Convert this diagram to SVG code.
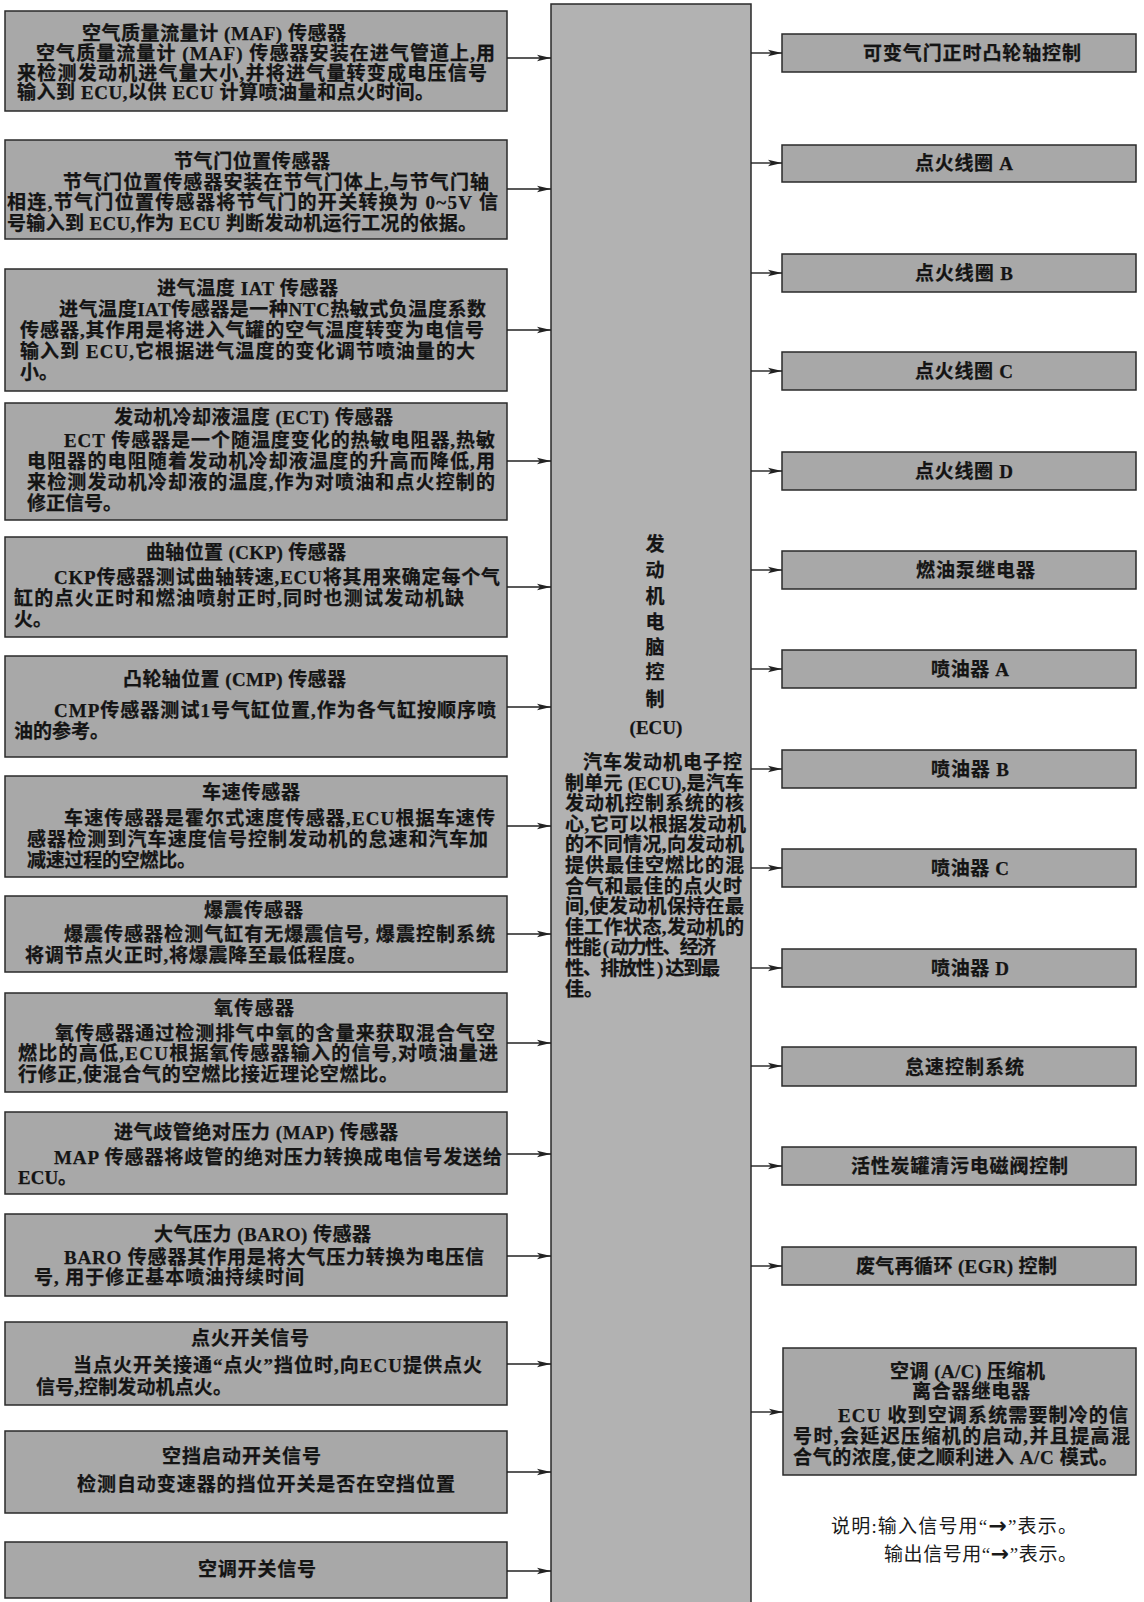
<svg xmlns="http://www.w3.org/2000/svg" width="1144" height="1602" viewBox="0 0 1144 1602">
<defs>
<style>
.box{fill:#a8a8a8;stroke:#2a2a2a;stroke-width:1.5}
.ecu{fill:#b2b2b2;stroke:#2a2a2a;stroke-width:1.5}
.t{font-family:"Liberation Serif","Noto Sans CJK SC",serif;font-size:19px;font-weight:bold;fill:#141414;stroke:#141414;stroke-width:0.25}
.lg{font-family:"Liberation Serif","Noto Sans CJK SC",serif;font-size:19px;font-weight:normal;fill:#1a1a1a}
.ar{font-family:"DejaVu Sans",sans-serif;font-size:22px;font-weight:bold}
.c{stroke:#222;stroke-width:1.4;fill:none;marker-end:url(#ah)}
</style>
<marker id="ah" markerUnits="userSpaceOnUse" markerWidth="15" markerHeight="8" refX="14" refY="4" orient="auto">
<path d="M0,0.8 L14,4 L0,7.2 L3,4 z" fill="#222"/>
</marker>
</defs>
<rect width="1144" height="1602" fill="#ffffff"/>

<g id="ecu">
<rect class="ecu" x="551" y="4" width="200" height="1610"/>
<g class="t" text-anchor="middle">
<text x="655" y="551">发</text>
<text x="655" y="577">动</text>
<text x="655" y="603">机</text>
<text x="655" y="629">电</text>
<text x="655" y="654">脑</text>
<text x="655" y="679">控</text>
<text x="655" y="706">制</text>
<text x="656" y="734">(ECU)</text>
</g>
<g class="t">
<text x="583" y="769" textLength="159">汽车发动机电子控</text>
<text x="565" y="790" textLength="179">制单元 (ECU),是汽车</text>
<text x="565" y="810" textLength="179">发动机控制系统的核</text>
<text x="565" y="831" textLength="181">心,它可以根据发动机</text>
<text x="565" y="851" textLength="179">的不同情况,向发动机</text>
<text x="565" y="872" textLength="179">提供最佳空燃比的混</text>
<text x="565" y="893" textLength="177">合气和最佳的点火时</text>
<text x="565" y="913" textLength="179">间,使发动机保持在最</text>
<text x="565" y="934" textLength="179">佳工作状态,发动机的</text>
<text x="565" y="954" textLength="151">性能 ( 动力性、经济</text>
<text x="565" y="975" textLength="155">性、排放性 ) 达到最</text>
<text x="565" y="996">佳。</text>
</g>
</g>

<g id="in-maf">
<rect class="box" x="5" y="11" width="502" height="100"/>
<text class="t" x="82" y="40" textLength="264">空气质量流量计 (MAF) 传感器</text>
<text class="t" x="36" y="60" textLength="459">空气质量流量计 (MAF) 传感器安装在进气管道上,用</text>
<text class="t" x="17" y="80" textLength="470">来检测发动机进气量大小,并将进气量转变成电压信号</text>
<text class="t" x="17" y="99" textLength="417">输入到 ECU,以供 ECU 计算喷油量和点火时间。</text>
</g>

<g id="in-tps">
<rect class="box" x="5" y="140" width="502" height="99"/>
<text class="t" x="174" y="168" textLength="156">节气门位置传感器</text>
<text class="t" x="63" y="189" textLength="426">节气门位置传感器安装在节气门体上,与节气门轴</text>
<text class="t" x="7" y="209" textLength="491">相连,节气门位置传感器将节气门的开关转换为 0~5V 信</text>
<text class="t" x="7" y="230" textLength="470">号输入到 ECU,作为 ECU 判断发动机运行工况的依据。</text>
</g>

<g id="in-iat">
<rect class="box" x="5" y="269" width="502" height="122"/>
<text class="t" x="157" y="295" textLength="181">进气温度 IAT 传感器</text>
<text class="t" x="59" y="316" textLength="427">进气温度IAT传感器是一种NTC热敏式负温度系数</text>
<text class="t" x="20" y="337" textLength="464">传感器,其作用是将进入气罐的空气温度转变为电信号</text>
<text class="t" x="20" y="358" textLength="455">输入到 ECU,它根据进气温度的变化调节喷油量的大</text>
<text class="t" x="20" y="379">小。</text>
</g>

<g id="in-ect">
<rect class="box" x="5" y="403" width="502" height="117"/>
<text class="t" x="114" y="424" textLength="279">发动机冷却液温度 (ECT) 传感器</text>
<text class="t" x="64" y="447" textLength="431">ECT 传感器是一个随温度变化的热敏电阻器,热敏</text>
<text class="t" x="27" y="468" textLength="468">电阻器的电阻随着发动机冷却液温度的升高而降低,用</text>
<text class="t" x="27" y="489" textLength="468">来检测发动机冷却液的温度,作为对喷油和点火控制的</text>
<text class="t" x="27" y="510">修正信号。</text>
</g>

<g id="in-ckp">
<rect class="box" x="5" y="537" width="502" height="100"/>
<text class="t" x="146" y="559" textLength="200">曲轴位置 (CKP) 传感器</text>
<text class="t" x="54" y="584" textLength="446">CKP传感器测试曲轴转速,ECU将其用来确定每个气</text>
<text class="t" x="14" y="605" textLength="450">缸的点火正时和燃油喷射正时,同时也测试发动机缺</text>
<text class="t" x="14" y="626">火。</text>
</g>

<g id="in-cmp">
<rect class="box" x="5" y="656" width="502" height="101"/>
<text class="t" x="123" y="686" textLength="223">凸轮轴位置 (CMP) 传感器</text>
<text class="t" x="54" y="717" textLength="442">CMP传感器测试1号气缸位置,作为各气缸按顺序喷</text>
<text class="t" x="14" y="738">油的参考。</text>
</g>

<g id="in-vss">
<rect class="box" x="5" y="776" width="502" height="101"/>
<text class="t" x="202" y="799" textLength="98">车速传感器</text>
<text class="t" x="64" y="825" textLength="431">车速传感器是霍尔式速度传感器,ECU根据车速传</text>
<text class="t" x="27" y="846" textLength="461">感器检测到汽车速度信号控制发动机的怠速和汽车加</text>
<text class="t" x="27" y="867" textLength="169">减速过程的空燃比。</text>
</g>

<g id="in-knock">
<rect class="box" x="5" y="896" width="502" height="76"/>
<text class="t" x="204" y="917" textLength="99">爆震传感器</text>
<text class="t" x="64" y="941" textLength="431">爆震传感器检测气缸有无爆震信号, 爆震控制系统</text>
<text class="t" x="25" y="962" textLength="341">将调节点火正时,将爆震降至最低程度。</text>
</g>

<g id="in-o2">
<rect class="box" x="5" y="993" width="502" height="99"/>
<text class="t" x="214" y="1015" textLength="80">氧传感器</text>
<text class="t" x="55" y="1040" textLength="440">氧传感器通过检测排气中氧的含量来获取混合气空</text>
<text class="t" x="18" y="1060" textLength="480">燃比的高低,ECU根据氧传感器输入的信号,对喷油量进</text>
<text class="t" x="18" y="1081" textLength="380">行修正,使混合气的空燃比接近理论空燃比。</text>
</g>

<g id="in-map">
<rect class="box" x="5" y="1112" width="502" height="82"/>
<text class="t" x="114" y="1139" textLength="284">进气歧管绝对压力 (MAP) 传感器</text>
<text class="t" x="54" y="1164" textLength="448">MAP 传感器将歧管的绝对压力转换成电信号发送给</text>
<text class="t" x="18" y="1184">ECU。</text>
</g>

<g id="in-baro">
<rect class="box" x="5" y="1214" width="502" height="82"/>
<text class="t" x="154" y="1241" textLength="217">大气压力 (BARO) 传感器</text>
<text class="t" x="64" y="1264" textLength="420">BARO 传感器其作用是将大气压力转换为电压信</text>
<text class="t" x="34" y="1284" textLength="270">号, 用于修正基本喷油持续时间</text>
</g>

<g id="in-ign">
<rect class="box" x="5" y="1322" width="502" height="83"/>
<text class="t" x="191" y="1345" textLength="118">点火开关信号</text>
<text class="t" x="73" y="1372" textLength="409">当点火开关接通“点火”挡位时,向ECU提供点火</text>
<text class="t" x="36" y="1394" textLength="196">信号,控制发动机点火。</text>
</g>

<g id="in-nsw">
<rect class="box" x="5" y="1431" width="502" height="82"/>
<text class="t" x="162" y="1463" textLength="159">空挡启动开关信号</text>
<text class="t" x="77" y="1491" textLength="378">检测自动变速器的挡位开关是否在空挡位置</text>
</g>

<g id="in-acsw">
<rect class="box" x="5" y="1542" width="502" height="56"/>
<text class="t" x="198" y="1576" textLength="118">空调开关信号</text>
</g>

<g id="out-vvt">
<rect class="box" x="782" y="34" width="354" height="38"/>
<text class="t" x="863" y="60" textLength="218">可变气门正时凸轮轴控制</text>
</g>
<g id="out-coil-a">
<rect class="box" x="782" y="145" width="354" height="37"/>
<text class="t" x="915" y="170" textLength="98">点火线圈 A</text>
</g>
<g id="out-coil-b">
<rect class="box" x="782" y="254" width="354" height="38"/>
<text class="t" x="915" y="280" textLength="98">点火线圈 B</text>
</g>
<g id="out-coil-c">
<rect class="box" x="782" y="352" width="354" height="38"/>
<text class="t" x="915" y="378" textLength="98">点火线圈 C</text>
</g>
<g id="out-coil-d">
<rect class="box" x="782" y="452" width="354" height="38"/>
<text class="t" x="915" y="478" textLength="98">点火线圈 D</text>
</g>
<g id="out-fuelpump">
<rect class="box" x="782" y="551" width="354" height="38"/>
<text class="t" x="916" y="577" textLength="119">燃油泵继电器</text>
</g>
<g id="out-inj-a">
<rect class="box" x="782" y="650" width="354" height="38"/>
<text class="t" x="931" y="676" textLength="78">喷油器 A</text>
</g>
<g id="out-inj-b">
<rect class="box" x="782" y="750" width="354" height="38"/>
<text class="t" x="931" y="776" textLength="78">喷油器 B</text>
</g>
<g id="out-inj-c">
<rect class="box" x="782" y="849" width="354" height="38"/>
<text class="t" x="931" y="875" textLength="78">喷油器 C</text>
</g>
<g id="out-inj-d">
<rect class="box" x="782" y="949" width="354" height="38"/>
<text class="t" x="931" y="975" textLength="78">喷油器 D</text>
</g>
<g id="out-idle">
<rect class="box" x="782" y="1047" width="354" height="39"/>
<text class="t" x="905" y="1074" textLength="119">怠速控制系统</text>
</g>
<g id="out-evap">
<rect class="box" x="782" y="1147" width="354" height="38"/>
<text class="t" x="851" y="1173" textLength="217">活性炭罐清污电磁阀控制</text>
</g>
<g id="out-egr">
<rect class="box" x="782" y="1247" width="354" height="38"/>
<text class="t" x="856" y="1273" textLength="201">废气再循环 (EGR) 控制</text>
</g>
<g id="out-ac-relay">
<rect class="box" x="783" y="1348" width="353" height="127"/>
<text class="t" x="890" y="1378" textLength="155">空调 (A/C) 压缩机</text>
<text class="t" x="912" y="1398" textLength="118">离合器继电器</text>
<text class="t" x="838" y="1422" textLength="290">ECU 收到空调系统需要制冷的信</text>
<text class="t" x="793" y="1443" textLength="337">号时,会延迟压缩机的启动,并且提高混</text>
<text class="t" x="793" y="1464" textLength="325">合气的浓度,使之顺利进入 A/C 模式。</text>
</g>

<g id="legend">
<text class="lg" x="831" y="1533" textLength="246">说明:输入信号用“<tspan class="ar">→</tspan>”表示。</text>
<text class="lg" x="884" y="1561" textLength="193">输出信号用“<tspan class="ar">→</tspan>”表示。</text>
</g>

<g id="connectors">
<line class="c" x1="507" y1="58" x2="551" y2="58"/>
<line class="c" x1="507" y1="189" x2="551" y2="189"/>
<line class="c" x1="507" y1="330" x2="551" y2="330"/>
<line class="c" x1="507" y1="461" x2="551" y2="461"/>
<line class="c" x1="507" y1="587" x2="551" y2="587"/>
<line class="c" x1="507" y1="707" x2="551" y2="707"/>
<line class="c" x1="507" y1="826" x2="551" y2="826"/>
<line class="c" x1="507" y1="934" x2="551" y2="934"/>
<line class="c" x1="507" y1="1043" x2="551" y2="1043"/>
<line class="c" x1="507" y1="1154" x2="551" y2="1154"/>
<line class="c" x1="507" y1="1256" x2="551" y2="1256"/>
<line class="c" x1="507" y1="1364" x2="551" y2="1364"/>
<line class="c" x1="507" y1="1472" x2="551" y2="1472"/>
<line class="c" x1="507" y1="1571" x2="551" y2="1571"/>
<line class="c" x1="751" y1="53" x2="782" y2="53"/>
<line class="c" x1="751" y1="163" x2="782" y2="163"/>
<line class="c" x1="751" y1="273" x2="782" y2="273"/>
<line class="c" x1="751" y1="371" x2="782" y2="371"/>
<line class="c" x1="751" y1="471" x2="782" y2="471"/>
<line class="c" x1="751" y1="570" x2="782" y2="570"/>
<line class="c" x1="751" y1="669" x2="782" y2="669"/>
<line class="c" x1="751" y1="769" x2="782" y2="769"/>
<line class="c" x1="751" y1="868" x2="782" y2="868"/>
<line class="c" x1="751" y1="968" x2="782" y2="968"/>
<line class="c" x1="751" y1="1066" x2="782" y2="1066"/>
<line class="c" x1="751" y1="1166" x2="782" y2="1166"/>
<line class="c" x1="751" y1="1266" x2="782" y2="1266"/>
<line class="c" x1="751" y1="1412" x2="783" y2="1412"/>
</g>
</svg>
